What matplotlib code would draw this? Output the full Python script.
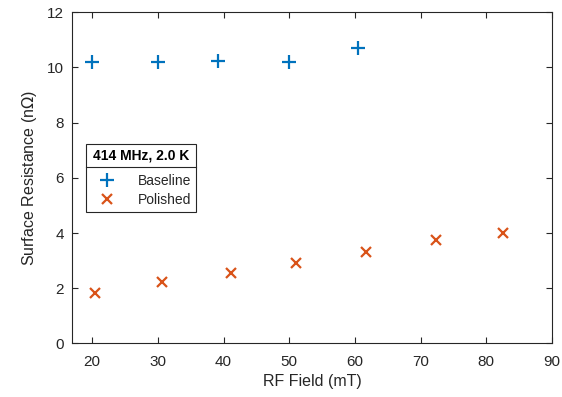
import numpy as np
import matplotlib as mpl
mpl.use("Agg")
from matplotlib import pyplot as plt
from matplotlib.lines import Line2D

# 数据
baseline_field = [20, 30, 39.2, 50, 60.4]
baseline_rs = [10.2, 10.2, 10.25, 10.2, 10.7]
polished_field = [20.5, 30.6, 41.1, 51.1, 61.7, 72.3, 82.6]
polished_rs = [1.82, 2.21, 2.55, 2.91, 3.32, 3.76, 4.0]
x_ticks = [20, 30, 40, 50, 60, 70, 80, 90]
y_ticks = [0, 2, 4, 6, 8, 10, 12]

plt.rcParams['font.family'] = ['Liberation Sans', 'DejaVu Sans']
grey = '#262626'

fig = plt.figure(figsize=(5.62, 3.97), dpi=100)
ax = fig.add_axes([0.129, 0.135, 0.853, 0.834])

ax.plot(baseline_field, baseline_rs, linestyle='none', marker='+', color='#0072BD',
        markersize=10, markeredgewidth=1.6, label='Baseline')
ax.plot(polished_field, polished_rs, linestyle='none', marker='x', color='#D95319',
        markersize=7.5, markeredgewidth=1.6, label='Polished')

ax.set_xlim(17, 90)
ax.set_ylim(0, 12)
ax.set_xticks(x_ticks)
ax.set_yticks(y_ticks)
ax.tick_params(direction='in', top=True, right=True, length=4, width=0.8,
               labelsize=11, colors=grey)
ax.tick_params(axis='x', pad=8)
ax.tick_params(axis='y', pad=6)
for s in ax.spines.values():
    s.set_color(grey)
    s.set_linewidth(0.8)
ax.set_xlabel('RF Field (mT)', fontsize=11.5, color=grey, labelpad=4)
ax.set_ylabel('Surface Resistance (n$\\Omega$)', fontsize=11.5, color=grey, labelpad=6)

leg = ax.legend(title='414 MHz, 2.0 K', loc='upper left', bbox_to_anchor=(0.028, 0.602),
                fancybox=False, edgecolor=grey, framealpha=1, fontsize=10,
                borderpad=0.35, handlelength=2.4, handletextpad=1.0, labelspacing=0.37,
                borderaxespad=0,
                title_fontproperties={'weight': 'bold', 'size': 10})
leg._legend_box.sep = 8
for t in leg.get_texts():
    t.set_color(grey)
leg.get_frame().set_linewidth(0.8)

# 图例标题下的分隔线
fig.canvas.draw()
r = fig.canvas.get_renderer()
fb = leg.get_frame().get_window_extent(r)
tb = leg.get_title().get_window_extent(r)
yline = tb.y0 - 4
inv = fig.transFigure.inverted()
(x0, y0) = inv.transform((fb.x0, yline))
(x1, _) = inv.transform((fb.x1, yline))
fig.add_artist(Line2D([x0, x1], [y0, y0], color=grey, linewidth=0.8, transform=fig.transFigure))

fig.savefig('out.png', dpi=100)
